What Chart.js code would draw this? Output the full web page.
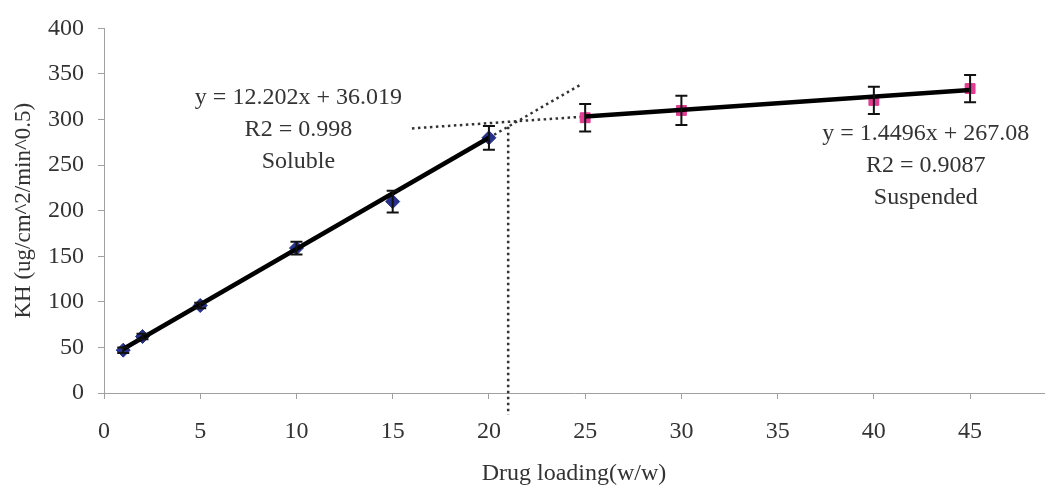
<!DOCTYPE html>
<html>
<head>
<meta charset="utf-8">
<script src="https://cdn.jsdelivr.net/npm/chart.js@4/dist/chart.umd.min.js"></script>
<style>
  html, body { margin: 0; padding: 0; background: #fff; }
  #wrap { width: 1052px; height: 488px; }
</style>
</head>
<body>
<div id="wrap"><canvas id="c" width="1052" height="488"></canvas></div>
<script>
// Drug loading (w/w) and KH values with standard deviations
const solubleLoading = [1, 2, 5, 10, 15, 20];
const solubleKH      = [47, 62, 96, 159, 210, 280];
const solubleErr     = [3, 3, 3, 7, 12, 13];

const suspendedLoading = [25, 30, 40, 45];
const suspendedKH      = [302, 310, 321, 334];
const suspendedErr     = [15, 16, 15, 15];

// Linear fits
const solubleFit   = { slope: 12.202, intercept: 36.019, r2: '0.998' };
const suspendedFit = { slope: 1.4496, intercept: 267.08, r2: '0.9087' };

// Extrapolation ranges and the crossover marker
const solubleExtend   = [20, 24.8];
const suspendedExtend = [16, 25];
const crossoverX      = 21;
const crossoverKH     = [292, -24];

const xTicks = [0, 5, 10, 15, 20, 25, 30, 35, 40, 45];
const yTicks = [0, 50, 100, 150, 200, 250, 300, 350, 400];

const fitLine = (fit, xs) => xs.map(x => ({ x, y: fit.slope * x + fit.intercept }));
const pts = (xs, ys) => xs.map((x, i) => ({ x, y: ys[i] }));

const SERIF = '"Liberation Serif", "DejaVu Serif", serif';
const TEXT = '#333333';
const AXIS = '#a0a0a0';

const errorBars = {
  id: 'errorBars',
  afterDatasetsDraw(chart) {
    const ctx = chart.ctx;
    const ys = chart.scales.y;
    chart.data.datasets.forEach((ds, di) => {
      if (!ds.errors) return;
      const meta = chart.getDatasetMeta(di);
      ctx.save();
      ctx.strokeStyle = '#111';
      ctx.lineWidth = 2;
      meta.data.forEach((el, i) => {
        const v = ds.data[i].y, e = ds.errors[i];
        const top = ys.getPixelForValue(v + e);
        const bot = ys.getPixelForValue(v - e);
        const x = el.x;
        ctx.beginPath();
        ctx.moveTo(x, top); ctx.lineTo(x, bot);
        ctx.moveTo(x - 6, top); ctx.lineTo(x + 6, top);
        ctx.moveTo(x - 6, bot); ctx.lineTo(x + 6, bot);
        ctx.stroke();
      });
      ctx.restore();
    });
  }
};

// Fit equations written beside each regime
const fitNotes = [
  { x: 10.1, y: 324, lines: ['y = ' + solubleFit.slope + 'x + ' + solubleFit.intercept, 'R2 = ' + solubleFit.r2, 'Soluble'] },
  { x: 42.7, y: 284, lines: ['y = ' + suspendedFit.slope + 'x + ' + suspendedFit.intercept, 'R2 = ' + suspendedFit.r2, 'Suspended'] }
];
const notes = {
  id: 'notes',
  afterDraw(chart) {
    const ctx = chart.ctx;
    ctx.save();
    ctx.fillStyle = TEXT;
    ctx.font = '24px ' + SERIF;
    ctx.textAlign = 'center';
    ctx.textBaseline = 'middle';
    fitNotes.forEach(n => {
      const px = chart.scales.x.getPixelForValue(n.x);
      const py = chart.scales.y.getPixelForValue(n.y);
      n.lines.forEach((t, i) => ctx.fillText(t, px, py + i * 32));
    });
    ctx.restore();
  }
};

new Chart(document.getElementById('c'), {
  type: 'scatter',
  data: {
    datasets: [
      { label: 'fit-soluble', type: 'line', data: fitLine(solubleFit, [solubleLoading[0], solubleLoading[solubleLoading.length - 1]]),
        borderColor: '#000', borderWidth: 4.5, pointRadius: 0, order: 0 },
      { label: 'fit-suspended', type: 'line', data: fitLine(suspendedFit, [suspendedLoading[0], suspendedLoading[suspendedLoading.length - 1]]),
        borderColor: '#000', borderWidth: 4.5, pointRadius: 0, order: 0 },
      { label: 'ext-soluble', type: 'line', data: fitLine(solubleFit, solubleExtend),
        borderColor: '#333', borderWidth: 2.5, borderDash: [2.5, 3.5], pointRadius: 0, order: 2 },
      { label: 'ext-suspended', type: 'line', data: fitLine(suspendedFit, suspendedExtend),
        borderColor: '#333', borderWidth: 2.5, borderDash: [2.5, 3.5], pointRadius: 0, order: 2 },
      { label: 'crossover', type: 'line', data: crossoverKH.map(y => ({ x: crossoverX, y })),
        borderColor: '#333', borderWidth: 2.5, borderDash: [2.5, 3.5], pointRadius: 0, order: 2, clip: false },
      { label: 'Soluble', data: pts(solubleLoading, solubleKH), errors: solubleErr,
        pointStyle: 'rectRot', pointRadius: 7, backgroundColor: '#27318a', borderColor: '#27318a', order: 1 },
      { label: 'Suspended', data: pts(suspendedLoading, suspendedKH), errors: suspendedErr,
        pointStyle: 'rect', pointRadius: 7, backgroundColor: '#e23d93', borderColor: '#e23d93', order: 1 }
    ]
  },
  options: {
    responsive: false,
    animation: false,
    layout: { padding: { top: 28, right: 0, left: 0, bottom: 0 } },
    plugins: { legend: { display: false }, tooltip: { enabled: false } },
    scales: {
      x: {
        type: 'linear', min: 0, max: 48.84,
        afterBuildTicks: s => { s.ticks = xTicks.map(v => ({ value: v })); },
        afterFit: s => { s.height = 95; },
        border: { color: AXIS, width: 1 },
        grid: { drawOnChartArea: false, drawTicks: true, tickLength: 6, color: AXIS },
        ticks: { color: TEXT, font: { family: SERIF, size: 24 }, padding: 18, maxRotation: 0 },
        title: { display: true, text: 'Drug loading(w/w)', color: TEXT, font: { family: SERIF, size: 24 }, padding: { top: 4, bottom: 0 } }
      },
      y: {
        min: 0, max: 400,
        afterBuildTicks: s => { s.ticks = yTicks.map(v => ({ value: v })); },
        afterFit: s => { s.width = 104; },
        border: { color: AXIS, width: 1 },
        grid: { drawOnChartArea: false, drawTicks: true, tickLength: 6, color: AXIS },
        ticks: { color: TEXT, font: { family: SERIF, size: 24 }, padding: 14 },
        title: { display: true, text: 'KH (ug/cm^2/min^0.5)', color: TEXT, font: { family: SERIF, size: 23 }, padding: { top: 10, bottom: 4 } }
      }
    }
  },
  plugins: [errorBars, notes]
});
</script>
</body>
</html>
